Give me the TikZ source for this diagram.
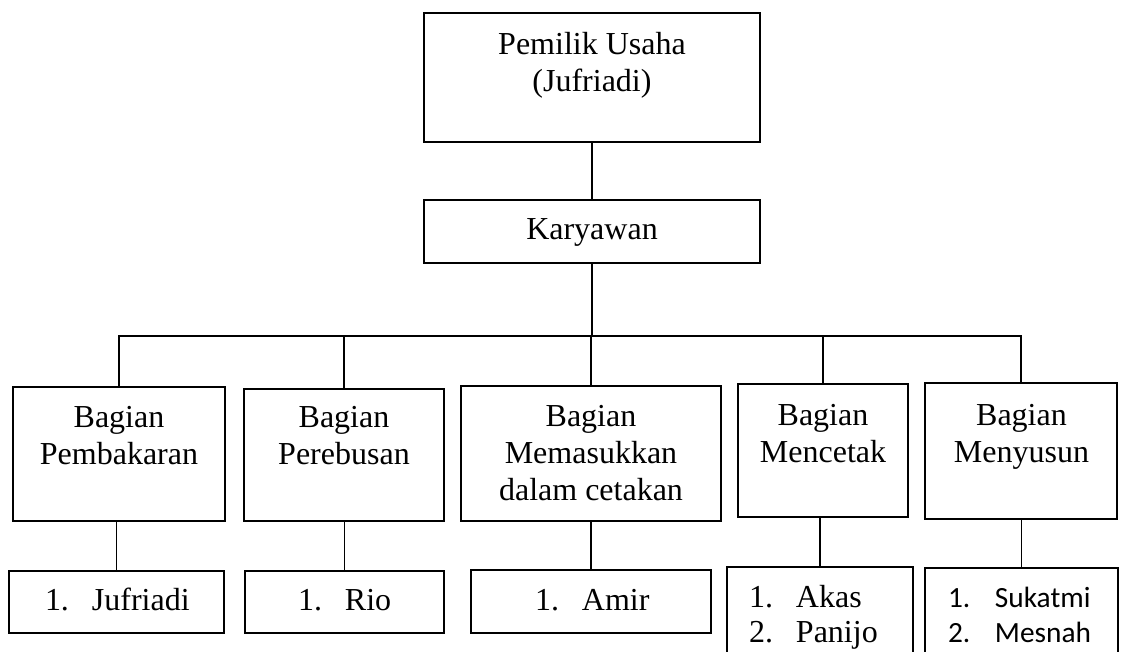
\documentclass[tikz,border=0pt]{standalone}
\usepackage{fontspec}
\setmainfont{Liberation Serif}
\newfontfamily\calfont{Carlito}
\begin{document}
\begin{tikzpicture}[x=0.5pt,y=-0.5pt,
  box/.style={draw,line width=0.8pt,inner sep=0pt,outer sep=0pt,rectangle},
  link/.style={draw,line width=0.8pt},
  txt/.style={inner sep=0pt,outer sep=0pt,align=center,font=\fontsize{16}{18.5}\selectfont},
  ltxt/.style={inner sep=0pt,outer sep=0pt,align=left,font=\fontsize{16}{17.5}\selectfont},
  ctxt/.style={inner sep=0pt,outer sep=0pt,align=left,font=\calfont\fontsize{14.67}{17.5}\selectfont}]
\useasboundingbox (0,0) rectangle (1125,652);
% boxes
\node[box,minimum width=168pt,minimum height=64.5pt] (top) at (592,77.5) {};
\node[box,minimum width=168pt,minimum height=31.5pt] (kary) at (592,231.5) {};
\node[box,minimum width=106pt,minimum height=67pt] (b1) at (119,454) {};
\node[box,minimum width=100pt,minimum height=66pt] (b2) at (344,455) {};
\node[box,minimum width=130pt,minimum height=67.5pt] (b3) at (591,453.5) {};
\node[box,minimum width=85pt,minimum height=66.5pt] (b4) at (823,450.5) {};
\node[box,minimum width=96pt,minimum height=68pt] (b5) at (1021,451) {};
\node[box,minimum width=107.5pt,minimum height=31pt] (c1) at (116.5,602) {};
\node[box,minimum width=99.5pt,minimum height=31pt] (c2) at (344.5,602) {};
\node[box,minimum width=120pt,minimum height=31.5pt] (c3) at (591,601.5) {};
\node[box,minimum width=93pt,minimum height=56.5pt] (c4) at (820,623.5) {};
\node[box,minimum width=96.5pt,minimum height=56pt] (c5) at (1021.5,624) {};
% texts (anchor=base is the baseline of the last line)
\node[txt,anchor=base] (ttop) at (592,92) {Pemilik Usaha\\(Jufriadi)};
\node[txt,anchor=base] (tkary) at (592,240) {Karyawan};
\node[txt,anchor=base] (tb1) at (119,464) {Bagian\\Pembakaran};
\node[txt,anchor=base] (tb2) at (344,464) {Bagian\\Perebusan};
\node[txt,anchor=base] (tb3) at (591,500) {Bagian\\Memasukkan\\dalam cetakan};
\node[txt,anchor=base] (tb4) at (823,462) {Bagian\\Mencetak};
\node[txt,anchor=base] (tb5) at (1021.5,462) {Bagian\\Menyusun};
\node[ltxt,anchor=base west] (tc1) at (45,610) {\makebox[23.5pt][l]{1.}Jufriadi};
\node[ltxt,anchor=base west] (tc2) at (298,610) {\makebox[23.5pt][l]{1.}Rio};
\node[ltxt,anchor=base west] (tc3) at (535,610) {\makebox[23.5pt][l]{1.}Amir};
\node[ltxt,anchor=base west] (tc4) at (749,642) {\makebox[23.5pt][l]{1.}Akas\\\makebox[23.5pt][l]{2.}Panijo};
\node[ctxt,anchor=base west] (tc5) at (948,642) {\makebox[23.5pt][l]{1.}Sukatmi\\\makebox[23.5pt][l]{2.}Mesnah};
% connectors
\coordinate (bus) at (592,336);
\draw[link] (top.south) -- (kary.north);
\draw[link] (kary.south) -- (bus);
\draw[link] (b1.north) |- (bus) -| (b5.north);
\draw[link] (b2.north) -- (b2.north |- bus);
\draw[link] (b3.north) -- (b3.north |- bus);
\draw[link] (b4.north) -- (b4.north |- bus);
\draw[link] (c1.north |- b1.south) -- (c1.north);
\draw[link] (c2.north |- b2.south) -- (c2.north);
\draw[link] (c3.north |- b3.south) -- (c3.north);
\draw[link] (c4.north |- b4.south) -- (c4.north);
\draw[link] (c5.north |- b5.south) -- (c5.north);
\end{tikzpicture}
\end{document}
